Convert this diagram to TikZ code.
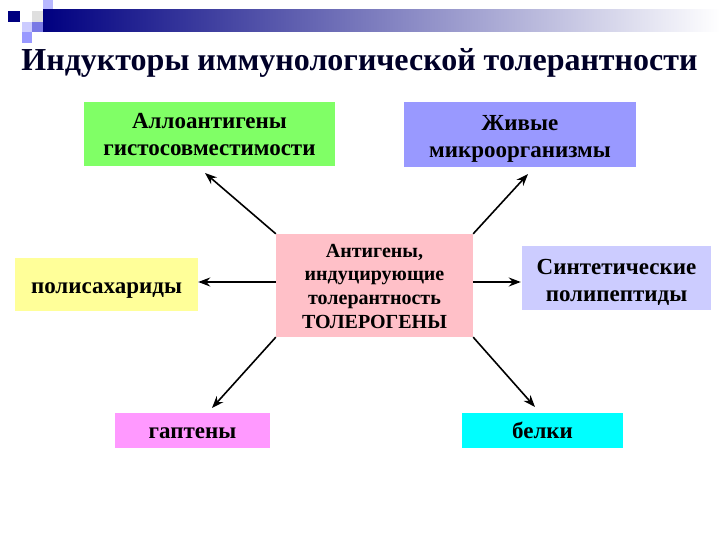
\documentclass[tikz,border=0pt]{standalone}
\usepackage{fontspec}
\setmainfont{Liberation Serif}
\usetikzlibrary{arrows.meta}
\definecolor{navybar}{RGB}{0,0,128}
\definecolor{gboxc}{RGB}{128,255,102}
\definecolor{bboxc}{RGB}{153,153,255}
\definecolor{yboxc}{RGB}{255,255,153}
\definecolor{pboxc}{RGB}{255,192,200}
\definecolor{lboxc}{RGB}{204,204,255}
\definecolor{mboxc}{RGB}{255,153,255}
\definecolor{cboxc}{RGB}{0,255,255}
\definecolor{titlec}{RGB}{0,0,40}
% first-line strut that pushes the text block down by #1
\newcommand\firststrut[1]{\rule[-0.3\baselineskip]{0pt}{\dimexpr\baselineskip+#1*2\relax}}
\tikzset{
  box/.style={inner sep=0pt, align=center, text=black,
    font=\bfseries\fontsize{23}{27}\selectfont},
  cbox/.style={box, font=\bfseries\fontsize{20}{23.7}\selectfont},
  arr/.style={line width=1.6pt, -{Stealth[length=12pt,width=9pt]}}
}
\begin{document}
\begin{tikzpicture}[x=1pt,y=-1pt]
\useasboundingbox (0,0) rectangle (720,540);
% decoration
\fill[navybar] (8,11) rectangle (20,22);
\fill[gray!25!white] (32,11) rectangle (43,22);
\fill[bboxc!70!white] (43,0) rectangle (53,10);
\fill[lboxc] (22,22) rectangle (32,32);
\fill[bboxc] (22,32) rectangle (32,43);
\fill[bboxc!80!navybar] (32,22) rectangle (43,32);
\shade[left color=navybar, right color=white] (43,10) rectangle (720,32);
% title
\node[font=\bfseries\fontsize{32}{36}\selectfont, text=titlec, inner sep=0pt, anchor=base] (title) at (359.5,71) {Индукторы иммунологической толерантности};
% boxes
\node[box, fill=gboxc, minimum width=251pt, minimum height=64pt] (allo) at (209.5,134)
  {\firststrut{3pt}Аллоантигены\\гистосовместимости\strut};
\node[box, fill=bboxc, minimum width=232pt, minimum height=65pt] (live) at (520,135)
  {\firststrut{3.8pt}Живые\\микроорганизмы\strut};
\node[box, fill=yboxc, minimum width=183pt, minimum height=53pt] (poly) at (106.5,284.5)
  {\firststrut{3.4pt}полисахариды};
\node[cbox, fill=pboxc, minimum width=197pt, minimum height=103pt] (c) at (374.5,285.5)
  {\firststrut{2.6pt}Антигены,\\индуцирующие\\толерантность\\ТОЛЕРОГЕНЫ\strut};
\node[box, fill=lboxc, minimum width=189pt, minimum height=64pt] (syn) at (616.5,278)
  {\firststrut{4.9pt}Синтетические\\полипептиды\strut};
\node[box, fill=mboxc, minimum width=155pt, minimum height=35pt] (hap) at (192.5,430)
  {\firststrut{3pt}гаптены};
\node[box, fill=cboxc, minimum width=161pt, minimum height=35pt] (prot) at (542.5,430)
  {\firststrut{3pt}белки};
% arrow tips
\coordinate (t1) at (205,173);
\coordinate (t2) at (528,174);
\coordinate (t5) at (212,408);
\coordinate (t6) at (535,407);
\draw[arr] (c.north west) -- (t1);
\draw[arr] (c.north east) -- (t2);
\draw[arr] ([yshift=3.5pt]c.west) -- (poly.east |- 0,282);
\draw[arr] ([yshift=3.5pt]c.east) -- ([xshift=-1pt]syn.west |- 0,282);
\draw[arr] (c.south west) -- (t5);
\draw[arr] (c.south east) -- (t6);
\end{tikzpicture}
\end{document}
